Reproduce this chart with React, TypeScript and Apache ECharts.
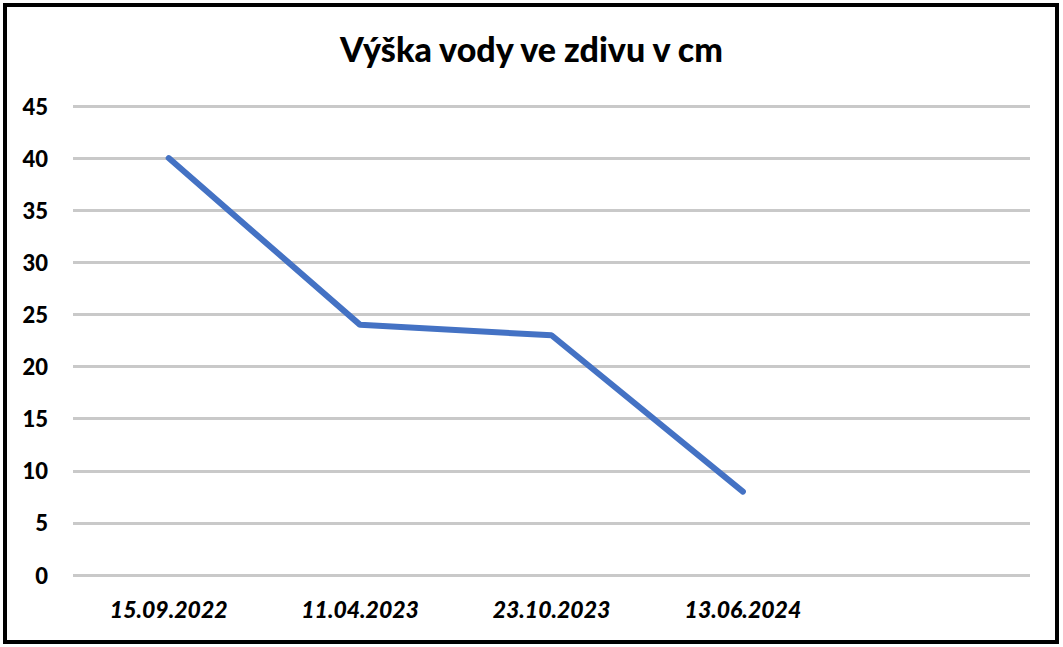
import React, { useEffect, useRef } from "react";
import * as echarts from "echarts";

const title = "Výška vody ve zdivu v cm";
const categories = ["15.09.2022", "11.04.2023", "23.10.2023", "13.06.2024", ""];
const values = [40, 24, 23, 8];
const yMin = 0;
const yMax = 45;
const yStep = 5;

export default function App() {
  const ref = useRef<HTMLDivElement>(null);
  useEffect(() => {
    if (!ref.current) return;
    const chart = echarts.init(ref.current, null, { renderer: "svg" });
    chart.setOption({
      animation: false,
      backgroundColor: "#ffffff",
      title: {
        text: title,
        left: "center",
        top: 26,
        textStyle: { fontFamily: "Lato", fontWeight: 900, fontSize: 34, color: "#000" },
      },
      graphic: [
        {
          type: "rect",
          shape: { x: 5, y: 5, width: 1052, height: 637 },
          style: { fill: "none", stroke: "#000", lineWidth: 4 },
          silent: true,
        },
      ],
      grid: { left: 73, right: 33, top: 106, bottom: 72 },
      xAxis: {
        type: "category",
        data: categories,
        boundaryGap: true,
        axisLine: { show: false },
        axisTick: { show: false },
        axisLabel: {
          margin: 22,
          fontFamily: "Lato",
          fontWeight: 900,
          fontStyle: "italic",
          fontSize: 23,
          color: "#000",
        },
      },
      yAxis: {
        type: "value",
        min: yMin,
        max: yMax,
        interval: yStep,
        axisLine: { show: false },
        axisTick: { show: false },
        axisLabel: {
          margin: 25,
          fontFamily: "Lato",
          fontWeight: 900,
          fontSize: 22,
          color: "#000",
        },
        splitLine: { lineStyle: { color: "#c9c9c9", width: 3 } },
      },
      series: [
        {
          type: "line",
          data: values,
          symbol: "none",
          lineStyle: { color: "#4472c4", width: 6, cap: "round" },
        },
      ],
    });
    return () => chart.dispose();
  }, []);
  return (
    <div
      ref={ref}
      style={{ position: "absolute", left: 0, top: 0, width: 1063, height: 647 }}
    />
  );
}
